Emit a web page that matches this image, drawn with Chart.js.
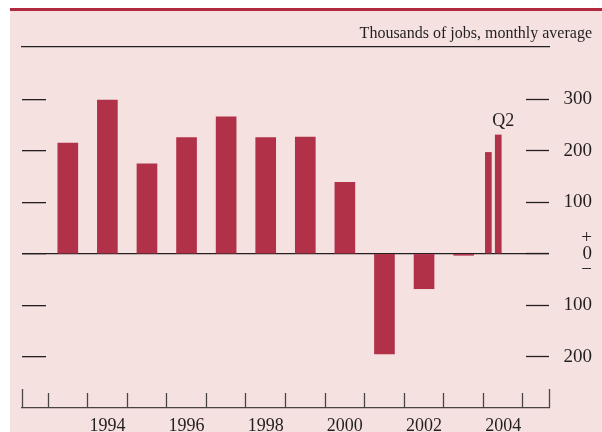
<!DOCTYPE html>
<html>
<head>
<meta charset="utf-8">
<script src="https://cdn.jsdelivr.net/npm/chart.js@4.4.1/dist/chart.umd.min.js"></script>
<style>
  html, body { margin: 0; padding: 0; background: #fff; }
  #panel { position: absolute; left: 10px; top: 8px; width: 592px; height: 421px;
           background: #f5e2e0; border-top: 3px solid #b2283f; }
  #myChart { position: absolute; left: 0; top: 0; }
</style>
</head>
<body>
<div id="panel"></div>
<canvas id="myChart" width="602" height="432"></canvas>
<script>
// annual job growth, thousands per month
const years = [1993, 1994, 1995, 1996, 1997, 1998, 1999, 2000, 2001, 2002, 2003];
const annual = [215, 299, 175, 226, 266, 226, 227, 139, -195, -68, -3];

// 2004 by quarter
const quarterLabels = ['Q1', 'Q2'];
const quarterly = [197, 231];
const quarterYear = 2004;

const boundaryYears = [1993, 1994, 1995, 1996, 1997, 1998, 1999, 2000, 2001, 2002, 2003, 2004, 2005];
const xTickYears = [1994, 1996, 1998, 2000, 2002, 2004];
const xTickLabels = ['1994', '1996', '1998', '2000', '2002', '2004'];
const yTickValues = [-200, -100, 0, 100, 200, 300];
const yTickLabels = ['200', '100', ['+', '0', '\u2212'], '100', '200', '300'];

const ink = '#231f20';
const barColor = '#b13149';
const serif = '"Liberation Serif", "DejaVu Serif", serif';
const X_MIN = 1992.343, X_MAX = 2005.657;
const Y_MIN = -263, Y_MAX = 402;

Chart.defaults.font.family = serif;
Chart.defaults.color = ink;

const annotate = {
    id: 'annotate',
    afterDatasetsDraw(chart) {
        const bar = chart.getDatasetMeta(1).data[1];
        const c = chart.ctx;
        c.save();
        c.font = '18px ' + serif;
        c.fillStyle = ink;
        c.textAlign = 'center';
        c.textBaseline = 'alphabetic';
        c.fillText(quarterLabels[1], bar.x + 5, bar.y - 9);
        c.restore();
    }
};

// y axes sit inside the plot, no extra padding wanted
function noPad(s) {
    s.paddingTop = 0;
    s.paddingBottom = 0;
}

let ctx1 = document.getElementById('myChart').getContext('2d');
let myChart = new Chart(ctx1, {
    type: 'bar',
    data: {
        datasets: [{
            label: 'annual',
            data: years.map((y, i) => ({x: y + 0.5, y: annual[i]})),
            backgroundColor: barColor,
            barThickness: 20,
            grouped: false
        }, {
            label: 'quarterly',
            data: quarterly.map((v, i) => ({x: quarterYear + (i + 0.5) / 4, y: v})),
            backgroundColor: barColor,
            barThickness: 6,
            grouped: false
        }]
    },
    options: {
        responsive: false,
        animation: false,
        layout: { padding: { left: 22, right: 10, top: 0, bottom: 0 } },
        plugins: {
            legend: { display: false },
            tooltip: { enabled: false },
            title: {
                display: true,
                text: 'Thousands of jobs, monthly average',
                align: 'end',
                color: ink,
                font: { size: 16, weight: 'normal', lineHeight: 1.125 },
                padding: { top: 25, bottom: 4 }
            }
        },
        scales: {
            x: {
                type: 'linear', position: 'bottom', weight: 0,
                min: X_MIN, max: X_MAX, offset: false,
                afterBuildTicks: s => { s.ticks = [X_MIN].concat(boundaryYears, [X_MAX]).map(v => ({value: v})); },
                afterFit: s => { s.height = 19; },
                ticks: { display: false },
                border: { display: false },
                grid: {
                    offset: false, drawOnChartArea: false, drawTicks: true, tickLength: 19,
                    tickColor: '#4a4444', tickWidth: 1.3,
                    tickBorderDash: c => (c.index === 0 || c.index === boundaryYears.length + 1) ? [] : [0, 4, 40, 0]
                }
            },
            xLab: {
                type: 'linear', position: 'bottom', weight: 1,
                min: X_MIN, max: X_MAX, offset: false,
                afterBuildTicks: s => { s.ticks = xTickYears.map(y => ({value: y + 0.5})); },
                afterFit: s => { s.height = 24; },
                ticks: {
                    autoSkip: false, maxRotation: 0, padding: 7, color: ink,
                    font: { size: 18 },
                    callback: (v, i) => xTickLabels[i]
                },
                border: { display: true, color: '#4a4444', width: 1.3 },
                grid: { display: false, drawTicks: false, offset: false }
            },
            xTop: {
                type: 'linear', position: 'top',
                min: X_MIN, max: X_MAX, offset: false,
                afterFit: s => { s.height = 0; },
                ticks: { display: false },
                border: { display: true, color: ink, width: 1.3 },
                grid: { display: false, drawTicks: false, offset: false }
            },
            y: {
                type: 'linear', position: 'left', z: 1,
                min: Y_MIN, max: Y_MAX,
                afterBuildTicks: s => { s.ticks = yTickValues.map(v => ({value: v})); },
                afterFit: s => { s.width = 0; noPad(s); },
                ticks: { display: false },
                border: { display: false },
                grid: {
                    drawOnChartArea: true, drawTicks: true, tickLength: -24,
                    color: c => (c.tick && c.tick.value === 0) ? ink : 'rgba(0,0,0,0)',
                    lineWidth: 1.3, tickColor: ink, tickWidth: 1.3
                }
            },
            yR: {
                type: 'linear', position: 'right', z: 1,
                min: Y_MIN, max: Y_MAX,
                afterBuildTicks: s => { s.ticks = yTickValues.map(v => ({value: v})); },
                afterFit: s => { s.width = 43; noPad(s); },
                ticks: {
                    autoSkip: false, crossAlign: 'far', padding: 40, color: ink,
                    font: { size: 19, lineHeight: 0.85 },
                    callback: (v, i) => yTickLabels[i]
                },
                border: { display: false },
                grid: {
                    drawOnChartArea: false, drawTicks: true, tickLength: -23,
                    tickColor: ink, tickWidth: 1.3
                }
            }
        }
    },
    plugins: [annotate]
});
</script>
</body>
</html>
